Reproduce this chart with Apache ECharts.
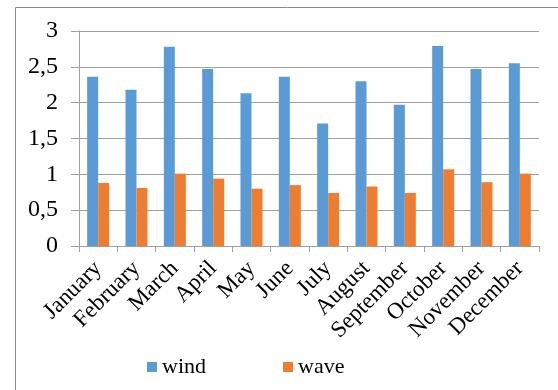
<!DOCTYPE html>
<html>
<head>
<meta charset="utf-8">
<script src="https://cdn.jsdelivr.net/npm/echarts@6/dist/echarts.min.js"></script>
<style>html,body{margin:0;padding:0;background:#fff;}#c{width:558px;height:390px;}</style>
</head>
<body>
<div id="c"></div>
<script>
const months = ['January','February','March','April','May','June','July','August','September','October','November','December'];
const wind = [2.36, 2.18, 2.78, 2.47, 2.13, 2.36, 1.71, 2.30, 1.97, 2.79, 2.47, 2.55];
const wave = [0.88, 0.81, 1.01, 0.94, 0.80, 0.85, 0.74, 0.83, 0.74, 1.07, 0.89, 1.01];
const seriesNames = ['wind', 'wave'];

const font = "Liberation Serif";
const chart = echarts.init(document.getElementById('c'), null, {renderer: 'canvas'});
chart.setOption({
  animation: false,
  backgroundColor: '#fff',
  graphic: [{
    type: 'rect', left: 13, top: 5, shape: {width: 560, height: 400},
    style: {fill: 'none', stroke: '#8c8c8c', lineWidth: 1}, silent: true
  }],
  grid: {left: 79, right: 19, top: 31, bottom: 144, containLabel: false},
  legend: {
    left: 147, top: 356, padding: 0, itemWidth: 10, itemHeight: 10, itemGap: 77,
    icon: 'rect',
    textStyle: {fontFamily: font, fontSize: 22, color: '#000'},
    data: seriesNames
  },
  xAxis: {
    type: 'category', data: months,
    axisLine: {lineStyle: {color: '#a0a0a0', width: 1}},
    axisTick: {show: true, length: 6, lineStyle: {color: '#a0a0a0'}},
    axisLabel: {rotate: 45, interval: 0, margin: 19, fontFamily: font, fontSize: 23, color: '#000', hideOverlap: false}
  },
  yAxis: {
    type: 'value', min: 0, max: 3, interval: 0.5,
    axisLine: {show: true, lineStyle: {color: '#a0a0a0', width: 1}},
    axisTick: {show: true, length: 8, lineStyle: {color: '#a0a0a0'}},
    splitLine: {lineStyle: {color: '#a0a0a0', width: 1}},
    axisLabel: {margin: 21, fontFamily: font, fontSize: 24, color: '#000',
      formatter: v => String(v).replace('.', ',')}
  },
  series: [
    {name: seriesNames[0], type: 'bar', data: wind, barWidth: 11, barGap: '0%', itemStyle: {color: '#5b9bd5'}},
    {name: seriesNames[1], type: 'bar', data: wave, barWidth: 11, barGap: '0%', itemStyle: {color: '#ed7d31'}}
  ]
});
</script>
</body>
</html>
